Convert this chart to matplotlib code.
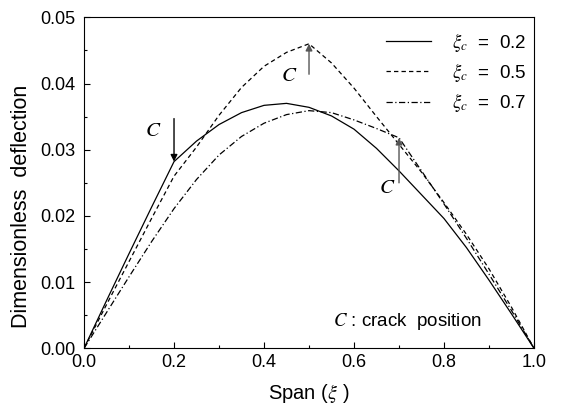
"""
Deflection of a cracked beam for three crack positions.
"""
import matplotlib
matplotlib.use("Agg")
import matplotlib.pyplot as plt
from matplotlib.ticker import MultipleLocator

plt.rcParams['font.family'] = ['Liberation Sans', 'DejaVu Sans']
plt.rcParams['mathtext.fontset'] = 'stix'

span = [0.0, 0.05, 0.1, 0.15, 0.2, 0.25, 0.3, 0.35, 0.4, 0.45, 0.5,
        0.55, 0.6, 0.65, 0.7, 0.75, 0.8, 0.85, 0.9, 0.95, 1.0]

# crack at 0.2
defl_02 = [0.0, 0.0072, 0.0143, 0.0213, 0.0282, 0.0313, 0.0338, 0.0356,
           0.0367, 0.0370, 0.0364, 0.0351, 0.0331, 0.0302, 0.0268, 0.0232,
           0.0196, 0.0152, 0.0103, 0.0052, 0.0]
# crack at 0.5
defl_05 = [0.0, 0.0066, 0.0131, 0.0196, 0.0260, 0.0304, 0.0352, 0.0394,
           0.0426, 0.0447, 0.0460, 0.0431, 0.0393, 0.0350, 0.0308, 0.0266,
           0.0220, 0.0172, 0.0120, 0.0062, 0.0]
# crack at 0.7
defl_07 = [0.0, 0.0054, 0.0108, 0.0161, 0.0211, 0.0255, 0.0292, 0.0320,
           0.0340, 0.0353, 0.0359, 0.0356, 0.0345, 0.0332, 0.0318, 0.0268,
           0.0218, 0.0166, 0.0112, 0.0057, 0.0]

crack_pos = [0.2, 0.5, 0.7]
labels = [r'$\xi_c$  =  0.2', r'$\xi_c$  =  0.5', r'$\xi_c$  =  0.7']

fig = plt.figure(figsize=(5.62, 4.07), dpi=100)
ax = fig.add_axes([0.1495, 0.1442, 0.8007, 0.8133])

ax.plot(span, defl_02, color='black', linewidth=0.9, label=labels[0])
ax.plot(span, defl_05, color='black', linewidth=0.9, linestyle=(0, (3.5, 2.5)),
        label=labels[1])
ax.plot(span, defl_07, color='black', linewidth=0.9,
        linestyle=(0, (5, 2, 1, 2)), label=labels[2])

# crack position arrows
c_font = dict(fontsize=15, fontstyle='italic', family='STIXGeneral')
arrow_kw = dict(arrowstyle='-|>', mutation_scale=10, color='black', lw=1.0,
                shrinkA=0, shrinkB=0)
ax.annotate('', xy=(0.2, defl_02[4]), xytext=(0.2, 0.0347),
            arrowprops=arrow_kw)
ax.text(0.136, 0.0320, 'C', **c_font)
arrow_kw2 = dict(arrow_kw, color='#555555')
ax.annotate('', xy=(0.5, defl_05[10]), xytext=(0.5, 0.0414),
            arrowprops=arrow_kw2)
ax.text(0.440, 0.0404, 'C', **c_font)
ax.annotate('', xy=(0.7, defl_07[14]), xytext=(0.7, 0.0250),
            arrowprops=arrow_kw2)
ax.text(0.658, 0.0234, 'C', **c_font)

ax.text(0.553, 0.0034, r'$C$ : crack  position', fontsize=13.5)

ax.set_xlim(0, 1.0)
ax.set_ylim(0, 0.05)
ax.xaxis.set_major_locator(MultipleLocator(0.2))
ax.xaxis.set_minor_locator(MultipleLocator(0.1))
ax.yaxis.set_major_locator(MultipleLocator(0.01))
ax.yaxis.set_minor_locator(MultipleLocator(0.005))
ax.xaxis.set_major_formatter(plt.FormatStrFormatter('%.1f'))
ax.yaxis.set_major_formatter(plt.FormatStrFormatter('%.2f'))
ax.tick_params(which='both', direction='in', labelsize=13, width=0.8)
ax.tick_params(axis='x', which='major', length=4, pad=4)
ax.tick_params(axis='y', which='major', length=4, pad=6)
ax.tick_params(which='minor', length=2.5)

ax.set_xlabel(r'Span ($\xi$ )', fontsize=14.5, labelpad=8)
ax.set_ylabel('Dimensionless  deflection', fontsize=15.5)
ax.yaxis.set_label_coords(-0.116, 0.43)

ax.legend(loc='upper right', bbox_to_anchor=(1.02, 1.01), frameon=False,
          fontsize=13.5, handlelength=2.4, labelspacing=0.38, handletextpad=1.1)

fig.savefig('out.png', dpi=100)
